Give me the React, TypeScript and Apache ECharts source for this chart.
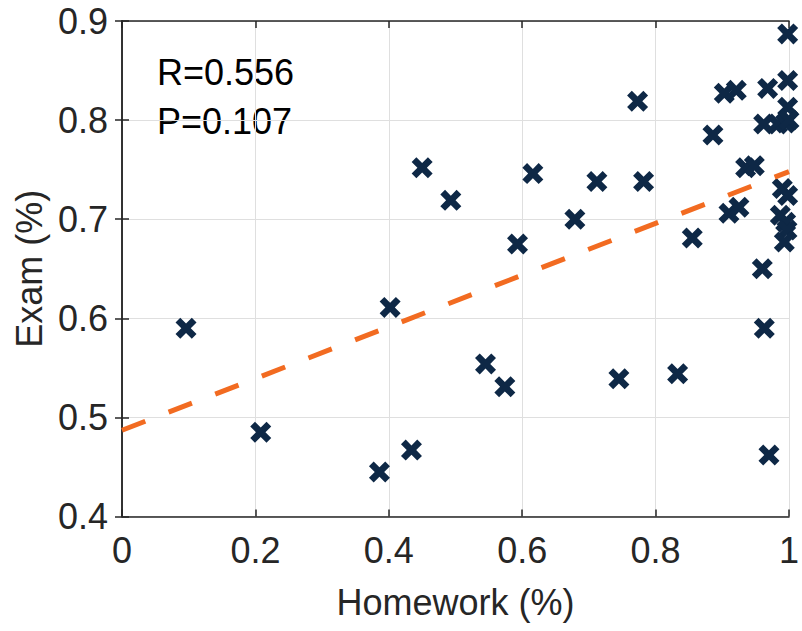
import React, { useEffect, useRef } from "react";
import * as echarts from "echarts";

const homework: number[] = [
  0.096, 0.208, 0.386, 0.402, 0.434, 0.45, 0.493, 0.545, 0.574, 0.593, 0.616, 0.679,
  0.712, 0.745, 0.773, 0.782, 0.833, 0.855, 0.886, 0.903, 0.921, 0.91, 0.925, 0.935,
  0.948, 0.96, 0.963, 0.97, 0.962, 0.968, 0.983, 0.998, 0.998, 0.998, 0.995, 1.0,
  0.99, 0.998, 0.987, 0.995, 0.997, 0.993,
];
const exam: number[] = [
  0.59, 0.485, 0.445, 0.611, 0.467, 0.752, 0.719, 0.554, 0.531, 0.675, 0.746, 0.7,
  0.738, 0.539, 0.819, 0.738, 0.544, 0.681, 0.785, 0.827, 0.83, 0.706, 0.712, 0.752,
  0.754, 0.65, 0.59, 0.462, 0.796, 0.832, 0.796, 0.887, 0.84, 0.813, 0.797, 0.8,
  0.731, 0.724, 0.704, 0.697, 0.689, 0.677,
];
const fitX: number[] = [0, 1];
const fitY: number[] = [0.487, 0.748];
const annotations: string[] = ["R=0.556", "P=0.107"];
const xLabel = "Homework (%)";
const yLabel = "Exam (%)";

const FONT = "Liberation Sans, Arial, Helvetica, sans-serif";
const XPATH =
  "path://M0,4.5L4.5,0L10,5.5L15.5,0L20,4.5L14.5,10L20,15.5L15.5,20L10,14.5L4.5,20L0,15.5L5.5,10Z";

export default function App() {
  const ref = useRef<HTMLDivElement>(null);
  useEffect(() => {
    if (!ref.current) return;
    const chart = echarts.init(ref.current, undefined, { renderer: "svg" });
    const axisLine = { show: true, lineStyle: { color: "#262626", width: 1.5 } };
    const tick = { show: true, inside: true, length: 7, lineStyle: { color: "#262626", width: 1.5 } };
    chart.setOption({
      animation: false,
      backgroundColor: "#ffffff",
      grid: { left: 122, right: 9, top: 21, bottom: 114.5 },
      xAxis: [
        {
          type: "value",
          min: 0,
          max: 1,
          interval: 0.2,
          position: "bottom",
          name: xLabel,
          nameLocation: "middle",
          nameGap: 68,
          nameTextStyle: { fontSize: 36, color: "#262626", fontFamily: FONT },
          axisLine,
          axisTick: tick,
          axisLabel: { fontSize: 36, color: "#262626", fontFamily: FONT, margin: 16 },
          splitLine: { show: true, lineStyle: { color: "#dfdfdf", width: 1 } },
        },
        {
          type: "value",
          min: 0,
          max: 1,
          interval: 0.2,
          position: "top",
          axisLine,
          axisTick: tick,
          axisLabel: { show: false },
          splitLine: { show: false },
        },
      ],
      yAxis: [
        {
          type: "value",
          min: 0.4,
          max: 0.9,
          interval: 0.1,
          position: "left",
          name: yLabel,
          nameLocation: "middle",
          nameGap: 64,
          nameTextStyle: { fontSize: 36, color: "#262626", fontFamily: FONT },
          axisLine,
          axisTick: tick,
          axisLabel: {
            fontSize: 36,
            color: "#262626",
            fontFamily: FONT,
            margin: 14,
            formatter: (v: number) => v.toFixed(1),
          },
          splitLine: { show: true, lineStyle: { color: "#dfdfdf", width: 1 } },
        },
        {
          type: "value",
          min: 0.4,
          max: 0.9,
          interval: 0.1,
          position: "right",
          axisLine,
          axisTick: tick,
          axisLabel: { show: false },
          splitLine: { show: false },
        },
      ],
      graphic: [
        {
          type: "text",
          left: 157,
          top: 54,
          style: { text: annotations[0], fontSize: 36, fill: "#000000", fontFamily: FONT },
        },
        {
          type: "text",
          left: 157,
          top: 103,
          style: { text: annotations[1], fontSize: 36, fill: "#000000", fontFamily: FONT },
        },
      ],
      series: [
        {
          type: "scatter",
          clip: false,
          symbol: XPATH,
          symbolSize: 21,
          itemStyle: { color: "#0e2846", opacity: 1 },
          data: homework.map((h, i) => [h, exam[i]]),
          z: 2,
        },
        {
          type: "line",
          clip: false,
          symbol: "none",
          lineStyle: { color: "#f26b21", width: 5, type: [25, 25] },
          data: fitX.map((x, i) => [x, fitY[i]]),
          z: 3,
        },
      ],
    });
    return () => chart.dispose();
  }, []);
  return <div ref={ref} style={{ width: 802, height: 631, position: "absolute", left: 0, top: 0 }} />;
}
